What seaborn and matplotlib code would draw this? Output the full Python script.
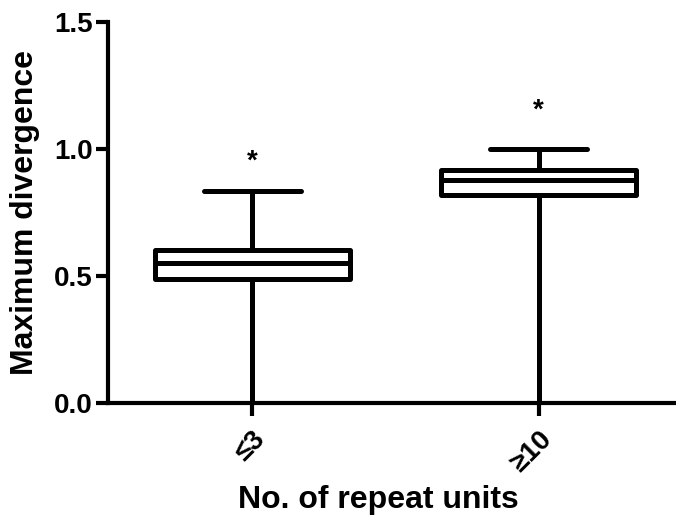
import numpy as np
import pandas as pd
import seaborn as sns
import matplotlib.pyplot as plt

# five-number summaries (min, Q1, median, Q3, max)
groups = ['≤3', '≥10']
le3_vals = [0.0, 0.488, 0.551, 0.602, 0.835]
ge10_vals = [0.0, 0.819, 0.878, 0.917, 1.0]
star_y = [0.95, 1.15]
yticks = [0.0, 0.5, 1.0, 1.5]

df = pd.DataFrame({
    'group': [groups[0]] * len(le3_vals) + [groups[1]] * len(ge10_vals),
    'value': le3_vals + ge10_vals,
})

sns.set_style('ticks')
plt.rcParams['font.family'] = ['Liberation Sans', 'DejaVu Sans']
plt.rcParams['font.weight'] = 'bold'
plt.rcParams['text.color'] = 'black'
plt.rcParams['axes.labelcolor'] = 'black'
plt.rcParams['xtick.color'] = 'black'
plt.rcParams['ytick.color'] = 'black'
plt.rcParams['axes.edgecolor'] = 'black'

fig = plt.figure(figsize=(6.76, 5.17), dpi=100)
ax = fig.add_axes([0.16, 0.2205, 0.84, 0.7369])

lw = 3.6
sns.boxplot(data=df, x='group', y='value', order=groups, whis=(0, 100),
            width=0.68, color='white', linewidth=lw, linecolor='black',
            ax=ax,
            medianprops={'color': 'black', 'linewidth': lw},
            whiskerprops={'color': 'black', 'linewidth': lw},
            capprops={'color': 'black', 'linewidth': lw, 'solid_capstyle': 'round'},
            boxprops={'edgecolor': 'black', 'linewidth': lw, 'joinstyle': 'round'})

for i, y in enumerate(star_y):
    ax.text(i, y, '*', ha='center', va='center', fontsize=20, fontweight='bold')

ax.set_xlim(-0.503, 1.48)
ax.set_ylim(0, 1.5)
ax.set_yticks(yticks)
ax.set_yticklabels([f'{v:.1f}' for v in yticks], fontsize=20, fontweight='bold')
ax.set_xticks(range(len(groups)))
ax.set_xticklabels(groups, rotation=45, fontsize=20, fontweight='bold',
                   ha='right', rotation_mode='anchor')
ax.set_xlabel('No. of repeat units', fontsize=23, fontweight='bold')
ax.set_ylabel('Maximum divergence', fontsize=23, fontweight='bold')
ax.xaxis.set_label_coords(0.475, -0.215)
ax.yaxis.set_label_coords(-0.12, 0.5)

sns.despine(ax=ax)
for side in ['left', 'bottom']:
    ax.spines[side].set_linewidth(3)
ax.tick_params(width=3, length=9, direction='out', pad=2)
ax.tick_params(axis='x', pad=8)

fig.savefig('out.png', dpi=100)
